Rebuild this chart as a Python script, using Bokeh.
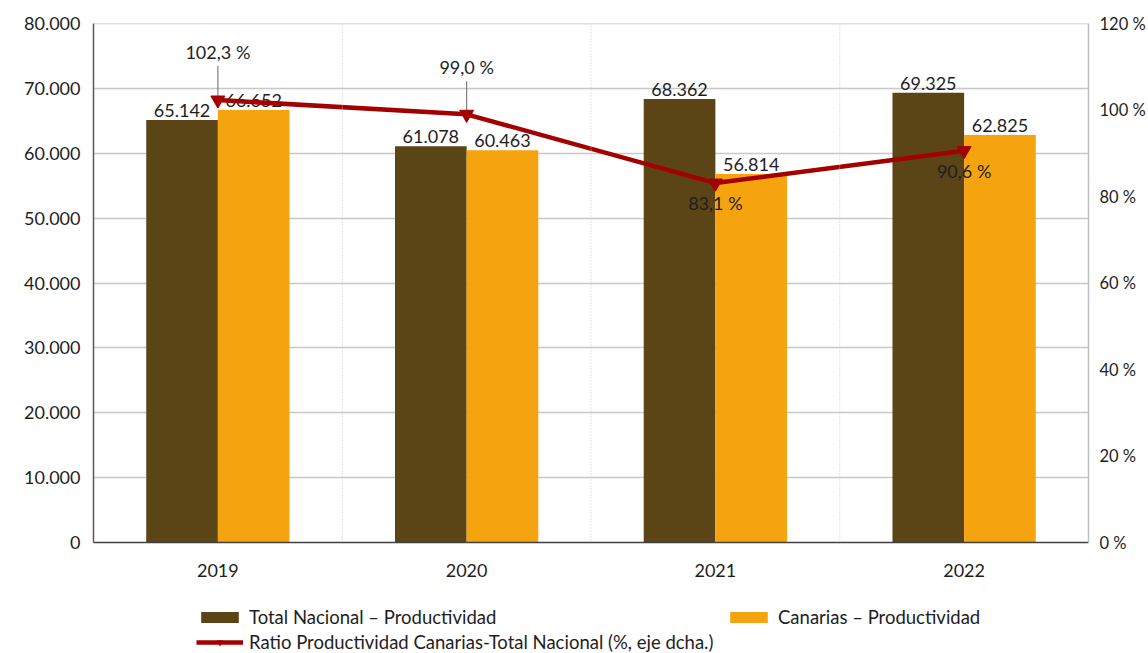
from bokeh.plotting import figure
from bokeh.layouts import column
from bokeh.models import (ColumnDataSource, FactorRange, Range1d, LinearAxis,
                          FixedTicker, Span, Legend, LegendItem, CustomJSTickFormatter)
from bokeh.transform import dodge
from bokeh.core.properties import value
from bokeh.embed import file_html
from bokeh.resources import INLINE

# ---- data ----
years = ["2019", "2020", "2021", "2022"]
total_nacional = [65142, 61078, 68362, 69325]
canarias = [66652, 60463, 56814, 62825]
ratio = [102.3, 99.0, 83.1, 90.6]
left_ticks = [0, 10000, 20000, 30000, 40000, 50000, 60000, 70000, 80000]
right_ticks = [0, 20, 40, 60, 80, 100, 120]
legend_labels = ["Total Nacional – Productividad", "Canarias – Productividad",
                 "Ratio Productividad Canarias-Total Nacional (%, eje dcha.)"]

# ---- style ----
FONT = "Lato"
DARK = "#5B4517"
ORANGE = "#F5A30F"
RED = "#A30000"
TXT = "#1E1E1E"
BAR_W = 0.288
FRAME_H = 519
W = 1148
ratio_label_offsets = [-48, -47, 20, 20]  # screen px
PX2PCT = 120.0 / FRAME_H


def fmt_thousands(v):
    return f"{v:,}".replace(",", ".")


def fmt_pct(v):
    return f"{v:.1f}".replace(".", ",") + " %"


src = ColumnDataSource(dict(
    years=years,
    total=total_nacional,
    canarias=canarias,
    ratio=ratio,
    total_lbl=[fmt_thousands(v) for v in total_nacional],
    can_lbl=[fmt_thousands(v) for v in canarias],
    ratio_lbl=[fmt_pct(v) for v in ratio],
    ratio_off=ratio_label_offsets,
))

p = figure(x_range=FactorRange(*years, range_padding=0),
           y_range=Range1d(0, 80000),
           width=W, height=595,
           output_backend="svg", toolbar_location=None,
           min_border_left=93, min_border_right=52,
           min_border_top=23, min_border_bottom=53)
p.outline_line_color = None
p.background_fill_color = "white"
p.border_fill_color = "white"

p.extra_y_ranges = {"pct": Range1d(0, 120)}

# grids
p.xgrid.grid_line_color = None
p.ygrid.ticker = FixedTicker(ticks=left_ticks)
p.ygrid.grid_line_color = "#C8C8C8"
p.ygrid.grid_line_width = 1.5
for b in range(1, len(years)):
    p.add_layout(Span(location=b, dimension="height", line_color="#C8C8C8",
                      line_dash="1 2", line_width=1))

# left axis
ya = p.yaxis[0]
ya.ticker = FixedTicker(ticks=left_ticks)
ya.major_label_overrides = {t: fmt_thousands(t) for t in left_ticks}
ya.major_tick_line_color = None
ya.minor_tick_line_color = None
ya.axis_line_color = "#595959"
ya.axis_line_width = 1.5
ya.major_label_text_font = FONT
ya.major_label_text_font_size = "18px"
ya.major_label_text_color = TXT
ya.major_label_standoff = 7

# bottom axis
xa = p.xaxis[0]
xa.major_tick_line_color = None
xa.minor_tick_line_color = None
xa.axis_line_color = "#404040"
xa.axis_line_width = 1.5
xa.major_label_text_font = FONT
xa.major_label_text_font_size = "18px"
xa.major_label_text_color = TXT
xa.major_label_standoff = 15

# right axis
ra = LinearAxis(y_range_name="pct", ticker=FixedTicker(ticks=right_ticks),
                formatter=CustomJSTickFormatter(code="return tick + ' %';"))
ra.major_tick_line_color = None
ra.minor_tick_line_color = None
ra.axis_line_color = "#BFBFBF"
ra.axis_line_width = 1.5
ra.major_label_text_font = FONT
ra.major_label_text_font_size = "16.5px"
ra.major_label_text_color = TXT
ra.major_label_standoff = 5
p.add_layout(ra, "right")

# top border line
p.add_layout(Span(location=80000, dimension="width", line_color="#BFBFBF", line_width=1.5))

# bars
p.vbar(x=dodge("years", -BAR_W / 2, range=p.x_range), top="total", width=BAR_W,
       source=src, fill_color=DARK, line_color=None)
p.vbar(x=dodge("years", BAR_W / 2, range=p.x_range), top="canarias", width=BAR_W,
       source=src, fill_color=ORANGE, line_color=None)

# bar labels
common = dict(text_font=value(FONT), text_font_size="18px", text_color=TXT,
              text_align="center", text_baseline="bottom", y_offset=-3, source=src)
p.text(x=dodge("years", -BAR_W / 2, range=p.x_range), y="total", text="total_lbl", **common)
p.text(x=dodge("years", BAR_W / 2, range=p.x_range), y="canarias", text="can_lbl", **common)

# leader lines for labels placed above
lead_src = ColumnDataSource(dict(
    years=[y for y, o in zip(years, ratio_label_offsets) if o < 0],
    y0=[r + 3 * PX2PCT for r, o in zip(ratio, ratio_label_offsets) if o < 0],
    y1=[r + (abs(o) - 14) * PX2PCT for r, o in zip(ratio, ratio_label_offsets) if o < 0],
))
p.segment(x0="years", y0="y0", x1="years", y1="y1", source=lead_src,
          y_range_name="pct", line_color="#7F7F7F", line_width=1.2)

# ratio line
p.line(x="years", y="ratio", source=src, y_range_name="pct",
       line_color=RED, line_width=4.5)
p.scatter(x="years", y="ratio", source=src, y_range_name="pct",
          marker="inverted_triangle", size=14, fill_color=RED, line_color=RED)

p.text(x="years", y="ratio", text="ratio_lbl", y_offset="ratio_off", source=src,
       y_range_name="pct", text_font=value(FONT), text_font_size="18px",
       text_color=TXT, text_align="center", text_baseline="middle")

# ---- legend strip (separate figure below the chart; frames are aligned) ----
lg = figure(width=W, height=58, x_range=Range1d(0, 1), y_range=Range1d(0, 1),
            output_backend="svg", toolbar_location=None,
            x_axis_type=None, y_axis_type=None,
            min_border_left=93, min_border_right=52, min_border_top=0, min_border_bottom=0)
lg.outline_line_color = None
lg.xgrid.visible = False
lg.ygrid.visible = False
# invisible proxy glyphs (outside the visible range) used only for legend swatches
proxy = ColumnDataSource(dict(x=[-5], y=[-5], top=[-5]))
d_total = lg.vbar(x="x", top="top", width=0.1, source=proxy, fill_color=DARK, line_color=None)
d_can = lg.vbar(x="x", top="top", width=0.1, source=proxy, fill_color=ORANGE, line_color=None)
d_line = lg.line(x="x", y="y", source=proxy, line_color=RED, line_width=4.5)
d_mark = lg.scatter(x="x", y="y", source=proxy, marker="inverted_triangle", size=14,
                    fill_color=RED, line_color=RED)

legend = Legend(items=[
    LegendItem(label=legend_labels[0], renderers=[d_total]),
    LegendItem(label=legend_labels[2], renderers=[d_line, d_mark]),
    LegendItem(label=legend_labels[1], renderers=[d_can]),
], ncols=2, location=(103, 0), border_line_color=None, background_fill_alpha=0,
    label_text_font=FONT, label_text_font_size="18.5px", label_text_color=TXT,
    glyph_width=47, glyph_height=14, label_standoff=6, spacing=3,
    padding=0, margin=0, label_height=18, label_width=473)
lg.add_layout(legend, "center")

layout = column(p, lg, spacing=0)
open("out.html", "w").write(file_html(layout, INLINE))
